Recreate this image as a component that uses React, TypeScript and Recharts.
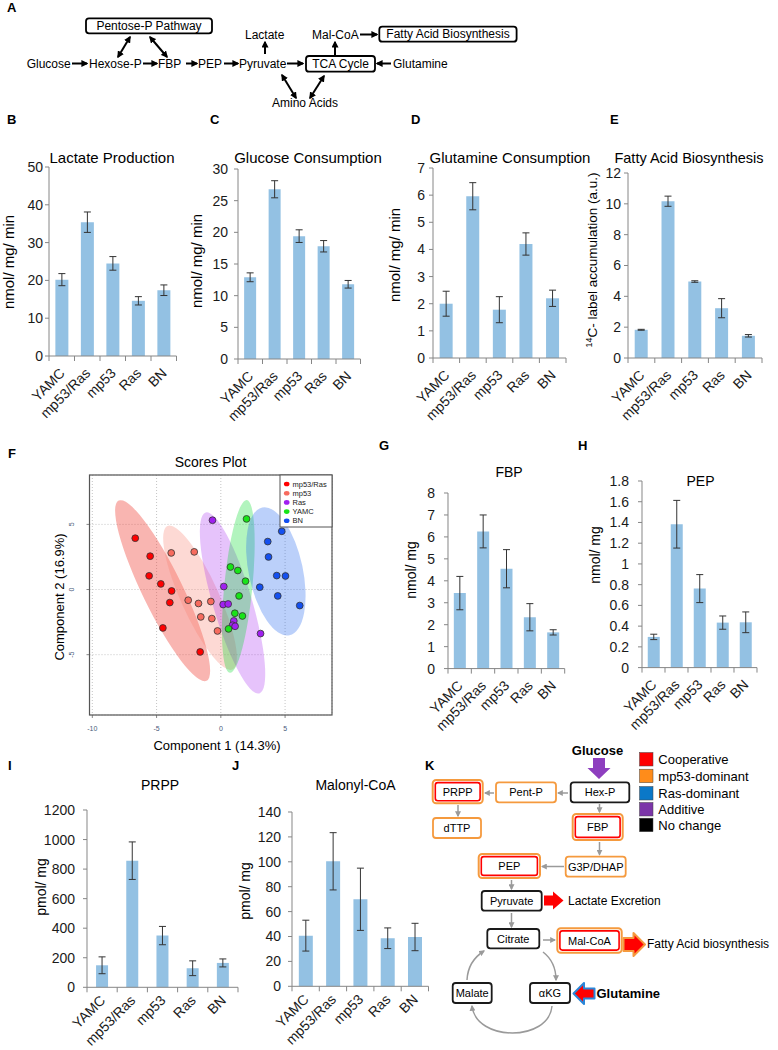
import React from 'react';
import { Bar, BarChart, CartesianGrid, ErrorBar, Scatter, ScatterChart, XAxis, YAxis } from 'recharts';

const FONT = '"Liberation Sans", Arial, Helvetica, sans-serif';
const BAR_FILL = '#93c1e3';
const AXIS = '#868686';
const INK = '#1a1a1a';
const ORANGE = '#f59a3e';

const groups = ['YAMC', 'mp53/Ras', 'mp53', 'Ras', 'BN'];

// B-E: rates
const lactate = [20.2, 35.4, 24.5, 14.6, 17.4];
const lactateErr = [1.6, 2.7, 1.8, 1.1, 1.4];
const glucose = [12.9, 26.8, 19.4, 17.8, 11.8];
const glucoseErr = [0.7, 1.35, 1.0, 0.9, 0.6];
const glutamine = [2.0, 5.96, 1.78, 4.2, 2.2];
const glutamineErr = [0.46, 0.5, 0.48, 0.41, 0.3];
const fattyAcid = [1.83, 10.17, 4.96, 3.23, 1.44];
const fattyAcidErr = [0.03, 0.33, 0.05, 0.62, 0.08];

// G-J: metabolite levels
const fbp = [3.44, 6.25, 4.55, 2.34, 1.65];
const fbpErr = [0.76, 0.75, 0.87, 0.62, 0.12];
const pep = [0.296, 1.383, 0.762, 0.434, 0.437];
const pepErr = [0.026, 0.23, 0.135, 0.064, 0.1];
const prpp = [149, 857, 350, 129, 165];
const prppErr = [57, 127, 62, 50, 27];
const malonyl = [40.7, 100.4, 69.9, 38.6, 39.6];
const malonylErr = [12.4, 23, 25, 8.3, 11];

const ticksLactate = [0, 10, 20, 30, 40, 50];
const ticksGlucose = [0, 5, 10, 15, 20, 25, 30];
const ticksGlutamine = [0, 1, 2, 3, 4, 5, 6, 7];
const ticksFatty = [0, 2, 4, 6, 8, 10, 12];
const ticksFbp = [0, 1, 2, 3, 4, 5, 6, 7, 8];
const ticksPep = [0, 0.2, 0.4, 0.6, 0.8, 1, 1.2, 1.4, 1.6, 1.8];
const ticksPrpp = [0, 200, 400, 600, 800, 1000, 1200];
const ticksMalonyl = [0, 20, 40, 60, 80, 100, 120, 140];

// F: PLS-DA scores (component 1, component 2)
const scoreGroups = ['mp53/Ras', 'mp53', 'Ras', 'YAMC', 'BN'];
const scoreColors = ['#ff0000', '#f76b5e', '#a020f0', '#18e418', '#1450f0'];
const ellipseFills = ['rgba(240,60,50,0.38)', 'rgba(250,128,114,0.3)', 'rgba(165,40,240,0.28)', 'rgba(0,220,40,0.3)', 'rgba(30,100,240,0.3)'];
const scoresMp53Ras = [[-6.66, 3.94], [-5.5, 2.56], [-5.58, 1.05], [-4.67, 0.43], [-3.83, -0.11], [-3.97, -1.0], [-4.51, -2.95], [-1.61, -4.79]];
const scoresMp53 = [[-3.86, 2.81], [-2.07, 2.89], [-2.54, -0.82], [-1.74, -1.07], [-0.78, -0.92], [-1.56, -2.1], [-0.7, -2.23], [-0.26, -3.18]];
const scoresRas = [[-0.65, 5.32], [0.23, 0.23], [0.18, -1.15], [0.57, -1.11], [1.01, -2.41], [0.91, -2.74], [1.11, -2.82], [3.09, -3.38]];
const scoresYamc = [[2.0, 5.42], [0.75, 1.73], [1.32, 1.46], [1.92, 0.64], [1.42, -0.49], [1.09, -1.82], [1.68, -2.03], [0.6, -3.02]];
const scoresBn = [[4.74, 4.47], [3.65, 3.68], [3.71, 2.5], [4.35, 1.07], [5.03, 1.04], [3.03, 0.18], [4.43, -0.49], [6.14, -1.23]];
// confidence ellipses: centre x, centre y, semi-major, semi-minor (component units), tilt in degrees
const ellipseParams = [
  [-4.53, -0.09, 7.75, 1.55, 64],
  [-1.62, -0.63, 6.09, 1.47, 65.6],
  [0.91, -1.03, 7.29, 1.51, 73.5],
  [1.36, 0.24, 6.71, 1.09, 95.6],
  [4.28, 1.39, 5.05, 2.09, 78],
];
const scoreXTicks = [-10, -5, 0, 5];
const scoreYTicks = [-5, 0, 5];

type PanelProps = {
  values: number[];
  errs: number[];
  ticks: number[];
  axisX: number;
  topY: number;
  zeroY: number;
  plotW: number;
  tickMargin: number;
  gap?: string;
  labelDy?: number;
};

const BarPanel = ({ values, errs, ticks, axisX, topY, zeroY, plotW, tickMargin, gap = '25%', labelDy = 18 }: PanelProps) => {
  const yw = 50;
  const mt = 10;
  const mr = 8;
  const xh = 70;
  const plotH = zeroY - topY;
  const axisY = mt + plotH;
  const band = plotW / groups.length;
  const data = groups.map((g, i) => ({ name: g, value: values[i], err: errs[i] }));

  const renderXTick = (props: any) => {
    const { x, index, payload } = props;
    const ax = x + 4;
    const ay = axisY + labelDy;
    return (
      <g>
        <line x1={x - band / 2} x2={x - band / 2} y1={axisY} y2={axisY + 5} stroke={AXIS} />
        {index === groups.length - 1 && (
          <line x1={x + band / 2} x2={x + band / 2} y1={axisY} y2={axisY + 5} stroke={AXIS} />
        )}
        <text x={ax} y={ay} textAnchor="end" transform={`rotate(-45 ${ax} ${ay})`} fontSize={14} fill={INK} fontFamily={FONT}>
          {payload.value}
        </text>
      </g>
    );
  };

  return (
    <div style={{ position: 'absolute', left: axisX - yw, top: topY - mt }}>
      <BarChart
        width={yw + plotW + mr}
        height={mt + plotH + xh}
        data={data}
        margin={{ top: mt, right: mr, left: 0, bottom: 0 }}
        barCategoryGap={gap}
      >
        <XAxis dataKey="name" height={xh} interval={0} tickLine={false} axisLine={{ stroke: AXIS }} tick={renderXTick} />
        <YAxis
          width={yw}
          domain={[0, ticks[ticks.length - 1]]}
          ticks={ticks}
          interval={0}
          tickSize={4}
          tickMargin={tickMargin}
          axisLine={{ stroke: AXIS }}
          tickLine={{ stroke: AXIS }}
          tick={{ fontSize: 14, fill: INK, fontFamily: FONT }}
        />
        <Bar dataKey="value" fill={BAR_FILL} isAnimationActive={false}>
          <ErrorBar dataKey="err" width={3.5} stroke="#333" strokeWidth={1} direction="y" />
        </Bar>
      </BarChart>
    </div>
  );
};

const ScoresPlot = () => {
  const yw = 29.5;
  const mt = 10;
  const mr = 10;
  const xh = 25;
  const pw = 242.5;
  const ph = 240;
  const xDomain: [number, number] = [-10.22, 8.65];
  const yDomain: [number, number] = [-9.63, 8.79];
  const k = (pw / (xDomain[1] - xDomain[0]) + ph / (yDomain[1] - yDomain[0])) / 2;

  const series = [scoresMp53Ras, scoresMp53, scoresRas, scoresYamc, scoresBn];
  const ellipses = ellipseParams.map(([x, y, a, b, angle]) => ({ x, y, a, b, angle }));

  const renderYTick = (props: any) => {
    const { x, y, payload } = props;
    const tx = x - 10;
    return (
      <text x={tx} y={y} textAnchor="middle" transform={`rotate(-90 ${tx} ${y})`} fontSize={7} fill="#4a5a7a" fontFamily={FONT}>
        {payload.value}
      </text>
    );
  };

  return (
    <div style={{ position: 'absolute', left: 89.5 - yw, top: 475 - mt }}>
      <ScatterChart width={yw + pw + mr} height={mt + ph + xh} margin={{ top: mt, right: mr, left: 0, bottom: 0 }}>
        <CartesianGrid strokeDasharray="1 2" stroke="#c4c4c4" />
        <XAxis
          type="number"
          dataKey="x"
          domain={xDomain}
          ticks={scoreXTicks}
          allowDataOverflow
          height={xh}
          axisLine={false}
          tickLine={{ stroke: '#888' }}
          tickSize={3}
          tickMargin={8}
          tick={{ fontSize: 7, fill: '#4a5a7a', fontFamily: FONT }}
        />
        <YAxis
          type="number"
          dataKey="y"
          domain={yDomain}
          ticks={scoreYTicks}
          allowDataOverflow
          width={yw}
          axisLine={false}
          tickLine={{ stroke: '#888' }}
          tickSize={3}
          tick={renderYTick}
        />
        {ellipses.map((e, i) => (
          <Scatter
            key={`e-${i}`}
            data={[e]}
            isAnimationActive={false}
            shape={(p: any) => (
              <ellipse
                cx={p.cx}
                cy={p.cy}
                rx={p.payload.a * k}
                ry={p.payload.b * k}
                transform={`rotate(${p.payload.angle} ${p.cx} ${p.cy})`}
                fill={ellipseFills[i]}
              />
            )}
          />
        ))}
        {series.map((pts, i) => (
          <Scatter
            key={`s-${i}`}
            name={scoreGroups[i]}
            data={pts.map(([x, y]) => ({ x, y }))}
            isAnimationActive={false}
            shape={(p: any) => <circle cx={p.cx} cy={p.cy} r={3.4} fill={scoreColors[i]} stroke="#333" strokeWidth={0.8} />}
          />
        ))}
      </ScatterChart>
    </div>
  );
};

const Arrow = ({ x1, y1, x2, y2, both = false }: any) => (
  <line
    x1={x1}
    y1={y1}
    x2={x2}
    y2={y2}
    stroke="#000"
    strokeWidth={2}
    markerEnd="url(#hd)"
    markerStart={both ? 'url(#hd)' : undefined}
  />
);

const GArrow = ({ x1, y1, x2, y2 }: any) => (
  <line x1={x1} y1={y1} x2={x2} y2={y2} stroke="#9a9a9a" strokeWidth={1.5} markerEnd="url(#hg)" />
);

const KBox = ({ x, y, w, h, t, kind }: any) => (
  <g>
    {kind === 'double' ? (
      <>
        <rect x={x} y={y} width={w} height={h} rx={3.5} fill="#fff" stroke={ORANGE} strokeWidth={2} />
        <rect x={x + 2.6} y={y + 2.6} width={w - 5.2} height={h - 5.2} rx={2.5} fill="none" stroke="#ff0000" strokeWidth={1.6} />
      </>
    ) : (
      <rect x={x} y={y} width={w} height={h} rx={3} fill="#fff" stroke={kind === 'black' ? INK : ORANGE} strokeWidth={1.8} />
    )}
    <text x={x + w / 2} y={y + h / 2 + 4} textAnchor="middle" fontSize={11}>
      {t}
    </text>
  </g>
);

const legendK = [
  ['Cooperative', '#ff0000'],
  ['mp53-dominant', '#ff8c1a'],
  ['Ras-dominant', '#0b78c8'],
  ['Additive', '#7b35a8'],
  ['No change', '#000000'],
];

const Overlay = () => (
  <svg width={778} height={1050} style={{ position: 'absolute', left: 0, top: 0, pointerEvents: 'none' }} fontFamily={FONT}>
    <defs>
      <marker id="hd" viewBox="0 0 10 10" markerWidth={7} markerHeight={7} markerUnits="userSpaceOnUse" refX={8} refY={5} orient="auto-start-reverse">
        <path d="M0,0 L10,5 L0,10 z" fill="#000" />
      </marker>
      <marker id="hg" viewBox="0 0 10 10" markerWidth={6} markerHeight={6} markerUnits="userSpaceOnUse" refX={8} refY={5} orient="auto-start-reverse">
        <path d="M0,0 L10,5 L0,10 z" fill="#9a9a9a" />
      </marker>
    </defs>

    {/* panel letters */}
    <g fontSize={13} fontWeight="bold">
      <text x={7} y={12}>A</text>
      <text x={7} y={124}>B</text>
      <text x={210} y={124}>C</text>
      <text x={411} y={124}>D</text>
      <text x={610} y={124}>E</text>
      <text x={8} y={458}>F</text>
      <text x={379} y={450}>G</text>
      <text x={578} y={450}>H</text>
      <text x={8} y={770}>I</text>
      <text x={232} y={770}>J</text>
      <text x={425} y={770}>K</text>
    </g>

    {/* A: pathway overview */}
    <g fontSize={12}>
      <rect x={86} y={18.3} width={126} height={15} rx={3} fill="#fff" stroke="#000" strokeWidth={1.8} />
      <text x={149} y={29.5} textAnchor="middle">Pentose-P Pathway</text>
      <rect x={306} y={56} width={69} height={15.7} rx={3} fill="#fff" stroke="#000" strokeWidth={1.8} />
      <text x={340.5} y={67.5} textAnchor="middle">TCA Cycle</text>
      <rect x={379.3} y={26.7} width={137.3} height={15} rx={3} fill="#fff" stroke="#000" strokeWidth={1.8} />
      <text x={448} y={38.3} textAnchor="middle">Fatty Acid Biosynthesis</text>
      <text x={26.7} y={67.5}>Glucose</text>
      <text x={89} y={67.5}>Hexose-P</text>
      <text x={158} y={67.5}>FBP</text>
      <text x={198} y={67.5}>PEP</text>
      <text x={239} y={67.5}>Pyruvate</text>
      <text x={393} y={67.5}>Glutamine</text>
      <text x={245} y={38.5}>Lactate</text>
      <text x={312} y={38.5}>Mal-CoA</text>
      <text x={272} y={106.7}>Amino Acids</text>
      <Arrow x1={72} y1={63.5} x2={87} y2={63.5} />
      <Arrow x1={143} y1={63.5} x2={157} y2={63.5} />
      <Arrow x1={186} y1={63.5} x2={197} y2={63.5} />
      <Arrow x1={224} y1={63.5} x2={238} y2={63.5} />
      <Arrow x1={287} y1={63.5} x2={303} y2={63.5} />
      <Arrow x1={391} y1={63.5} x2={377} y2={63.5} />
      <Arrow x1={265} y1={54} x2={265} y2={42} />
      <Arrow x1={335} y1={55} x2={335} y2={42} />
      <Arrow x1={360} y1={34.5} x2={377} y2={34.5} />
      <Arrow x1={118} y1={57} x2={130} y2={37} both />
      <Arrow x1={167} y1={57} x2={150} y2={37} both />
      <Arrow x1={282} y1={75} x2={296} y2={98} both />
      <Arrow x1={324} y1={76} x2={310} y2={98} both />
    </g>

    {/* chart titles */}
    <g fontSize={15} textAnchor="middle">
      <text x={112} y={162.7}>Lactate Production</text>
      <text x={308} y={162.7}>Glucose Consumption</text>
      <text x={510} y={162.7}>Glutamine Consumption</text>
      <text x={689} y={162.7} fontSize={14.5}>Fatty Acid Biosynthesis</text>
    </g>
    <g fontSize={14} textAnchor="middle">
      <text x={210.5} y={466.5}>Scores Plot</text>
      <text x={509} y={476.7}>FBP</text>
      <text x={700.5} y={486}>PEP</text>
      <text x={160} y={790}>PRPP</text>
      <text x={355.5} y={790}>Malonyl-CoA</text>
    </g>

    {/* y-axis labels */}
    <g textAnchor="middle" fontSize={15}>
      <text x={14} y={262} transform="rotate(-90 14 262)">nmol/ mg/ min</text>
      <text x={202} y={261} transform="rotate(-90 202 261)">nmol/ mg/ min</text>
      <text x={400} y={255} transform="rotate(-90 400 255)">nmol/ mg/ min</text>
      <text x={597} y={260} transform="rotate(-90 597 260)" fontSize={13.5}>
        <tspan fontSize={9} dy={-5}>14</tspan>
        <tspan dy={5}>C- label accumulation (a.u.)</tspan>
      </text>
    </g>
    <g textAnchor="middle" fontSize={14}>
      <text x={416} y={570} transform="rotate(-90 416 570)">nmol/ mg</text>
      <text x={600} y={555} transform="rotate(-90 600 555)">nmol/ mg</text>
      <text x={46} y={887} transform="rotate(-90 46 887)">pmol/ mg</text>
      <text x={250} y={891} transform="rotate(-90 250 891)">pmol/ mg</text>
    </g>

    {/* F frame, axis titles and legend */}
    <rect x={89.5} y={475} width={242.5} height={240} fill="none" stroke="#555" strokeWidth={1.2} />
    <text x={217} y={749.5} fontSize={13} textAnchor="middle">Component 1 (14.3%)</text>
    <text x={64} y={597} fontSize={13} textAnchor="middle" transform="rotate(-90 64 597)">Component 2 (16.9%)</text>
    <rect x={280} y={475} width={52} height={52} fill="#fff" stroke="#555" strokeWidth={1} />
    {scoreGroups.map((g, i) => (
      <g key={g}>
        <ellipse cx={286.7} cy={484 + i * 9.2} rx={2.8} ry={2.3} fill={scoreColors[i]} />
        <text x={292.5} y={486.6 + i * 9.2} fontSize={7.5} fill="#222">{g}</text>
      </g>
    ))}

    {/* K: summary scheme */}
    <g>
      <text x={597.5} y={755} fontSize={13} fontWeight="bold" textAnchor="middle">Glucose</text>
      <polygon points="593,758 605,758 605,768 610.5,768 599,779 587.5,768 593,768" fill="#8e3fbf" />
      <KBox x={432.7} y={780} w={50} h={23.3} t="PRPP" kind="double" />
      <KBox x={496} y={782.3} w={60} h={20} t="Pent-P" kind="orange" />
      <KBox x={570.7} y={782.3} w={58.6} h={20} t="Hex-P" kind="black" />
      <KBox x={433} y={818} w={48} h={20} t="dTTP" kind="orange" />
      <KBox x={572.7} y={814} w={50} h={26} t="FBP" kind="double" />
      <KBox x={565.7} y={856.7} w={60} h={20} t="G3P/DHAP" kind="orange" />
      <KBox x={478.7} y={854} w={61.3} h={24} t="PEP" kind="double" />
      <KBox x={481.7} y={891} w={60} h={19.7} t="Pyruvate" kind="black" />
      <KBox x={487.3} y={929} w={52} h={19.3} t="Citrate" kind="black" />
      <KBox x={557.3} y={928.3} w={64.4} h={24.4} t="Mal-CoA" kind="double" />
      <KBox x={452.7} y={983} w={39} h={20} t="Malate" kind="black" />
      <KBox x={530} y={983} w={40} h={20} t="αKG" kind="black" />
      <GArrow x1={568} y1={793} x2={558} y2={793} />
      <GArrow x1={494} y1={793} x2={485} y2={793} />
      <GArrow x1={458} y1={805} x2={458} y2={816} />
      <GArrow x1={599.5} y1={804} x2={599.5} y2={812} />
      <GArrow x1={599.5} y1={842} x2={599.5} y2={854.5} />
      <GArrow x1={564} y1={866.5} x2={542} y2={866.5} />
      <GArrow x1={511.5} y1={880} x2={511.5} y2={889} />
      <GArrow x1={511.5} y1={913} x2={511.5} y2={927} />
      <GArrow x1={543} y1={940} x2={555} y2={940} />
      <path d="M 543 952 Q 556 962 556 980" fill="none" stroke="#9a9a9a" strokeWidth={1.5} markerEnd="url(#hg)" />
      <path d="M 552 1006 C 549 1042 476 1042 472 1006" fill="none" stroke="#9a9a9a" strokeWidth={1.5} markerEnd="url(#hg)" />
      <path d="M 467 980 Q 468 961 484 951" fill="none" stroke="#9a9a9a" strokeWidth={1.5} markerEnd="url(#hg)" />
      <polygon points="544,895.5 553,895.5 553,891.5 563.5,900.5 553,909.5 553,905.5 544,905.5" fill="#ff0000" />
      <text x={568} y={905} fontSize={12}>Lactate Excretion</text>
      <polygon points="623.5,938 633.5,938 633.5,933 645,944.5 633.5,956 633.5,951 623.5,951" fill="#ff0000" stroke={ORANGE} strokeWidth={2} strokeLinejoin="round" />
      <text x={647} y={948} fontSize={12}>Fatty Acid biosynthesis</text>
      <polygon points="594.5,988.5 584,988.5 584,983 573.5,993.5 584,1004 584,998.5 594.5,998.5" fill="#ff0000" stroke="#2a86d8" strokeWidth={2} strokeLinejoin="round" />
      <text x={596.5} y={997.5} fontSize={13} fontWeight="bold">Glutamine</text>
      {legendK.map(([label, color], i) => {
        const cy = [759.3, 776, 793.3, 809.3, 825][i];
        return (
          <g key={label}>
            <rect x={639.5} y={cy - 6.8} width={13.5} height={13.5} fill={color} stroke="#444" strokeWidth={0.5} />
            <text x={658.3} y={cy + 4.6} fontSize={13}>{label}</text>
          </g>
        );
      })}
    </g>
  </svg>
);

const App: React.FC = () => (
  <div style={{ position: 'absolute', left: 0, top: 0, width: 778, height: 1050, background: '#fff', fontFamily: FONT, overflow: 'hidden' }}>
    <BarPanel values={lactate} errs={lactateErr} ticks={ticksLactate} axisX={49} topY={167} zeroY={356} plotW={127.5} tickMargin={2} />
    <BarPanel values={glucose} errs={glucoseErr} ticks={ticksGlucose} axisX={238.3} topY={169} zeroY={359} plotW={122.5} tickMargin={6} />
    <BarPanel values={glutamine} errs={glutamineErr} ticks={ticksGlutamine} axisX={433} topY={168.3} zeroY={358.3} plotW={133} tickMargin={4} />
    <BarPanel values={fattyAcid} errs={fattyAcidErr} ticks={ticksFatty} axisX={628} topY={173} zeroY={358} plotW={134} tickMargin={3} />
    <ScoresPlot />
    <BarPanel values={fbp} errs={fbpErr} ticks={ticksFbp} axisX={448.3} topY={492.7} zeroY={668.3} plotW={116.7} tickMargin={9} />
    <BarPanel values={pep} errs={pepErr} ticks={ticksPep} axisX={641.7} topY={480.7} zeroY={667.3} plotW={115} tickMargin={9} />
    <BarPanel values={prpp} errs={prppErr} ticks={ticksPrpp} axisX={87.3} topY={810} zeroY={987.3} plotW={151} tickMargin={8} gap="30%" labelDy={14} />
    <BarPanel values={malonyl} errs={malonylErr} ticks={ticksMalonyl} axisX={291.7} topY={811.7} zeroY={986} plotW={136.5} tickMargin={7} labelDy={14} />
    <Overlay />
  </div>
);

export default App;
